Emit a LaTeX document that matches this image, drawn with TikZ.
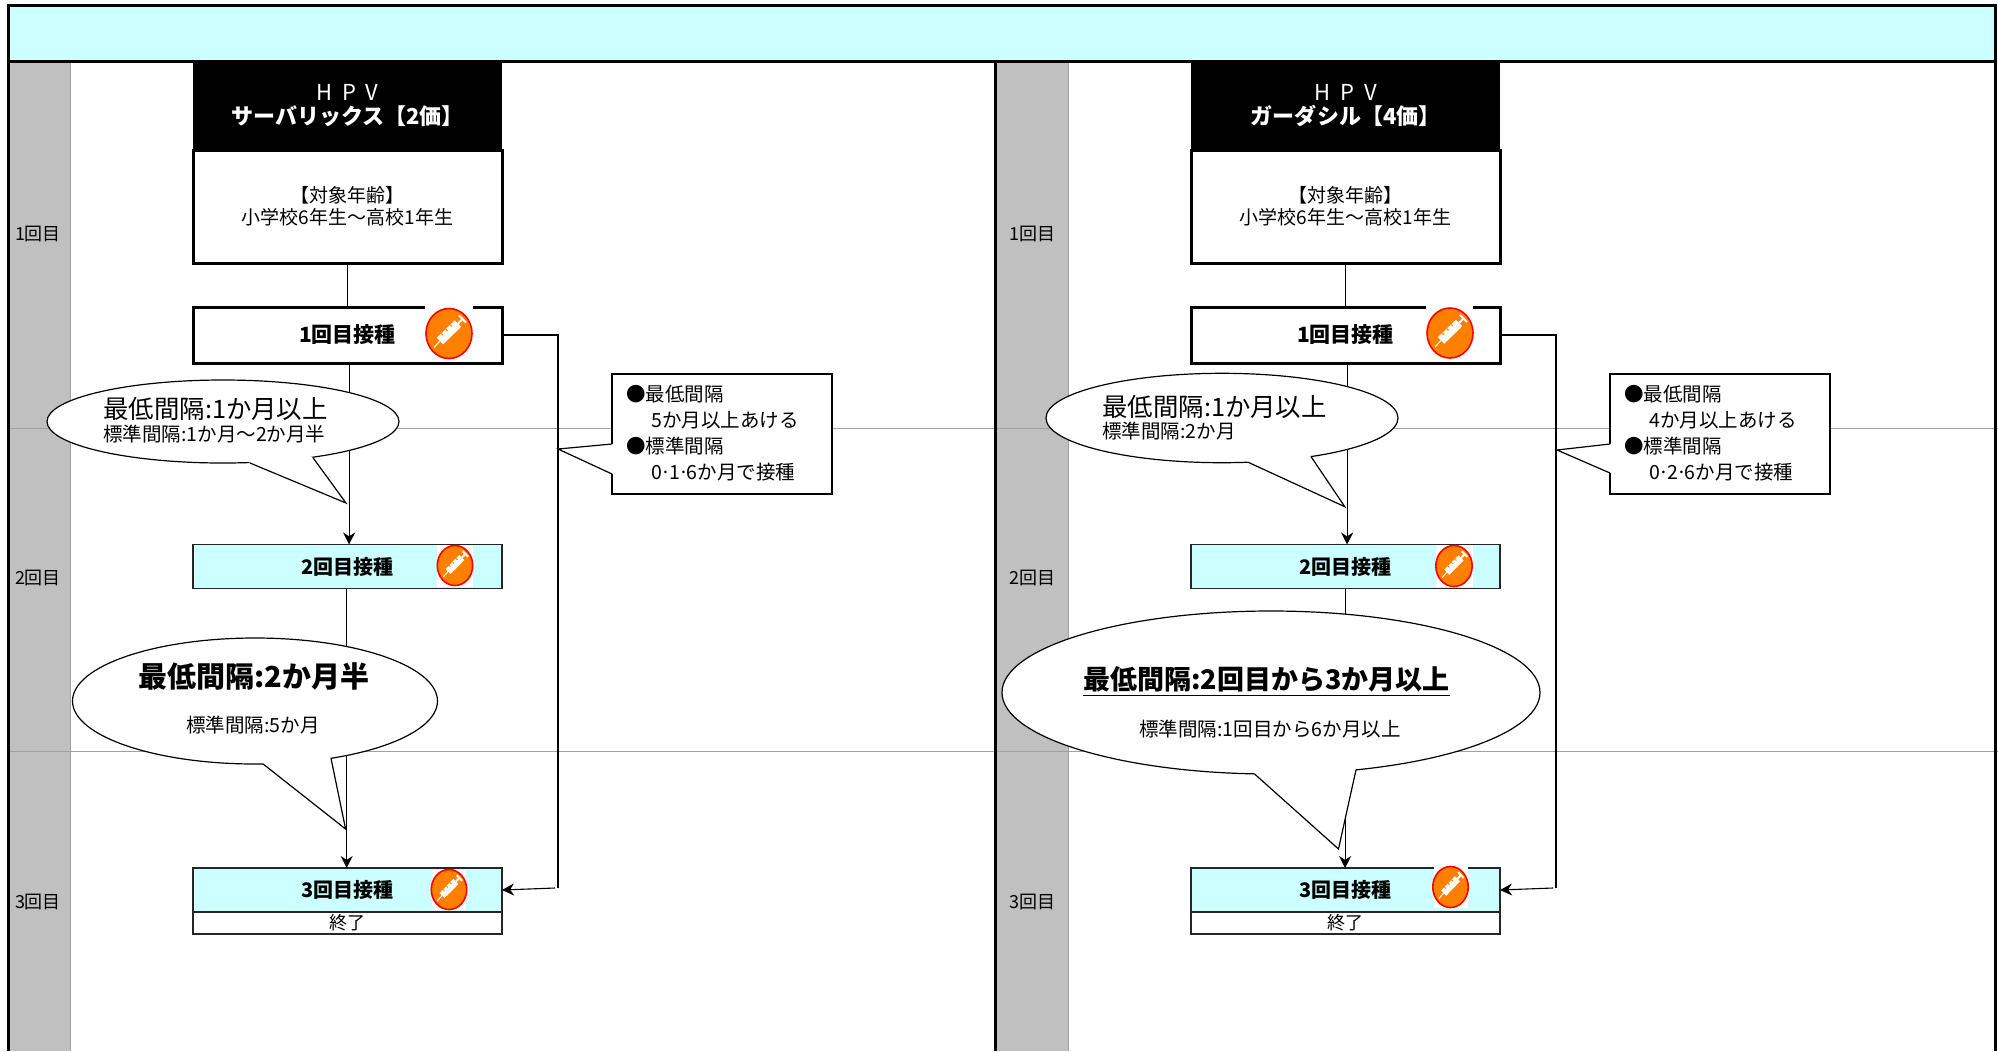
\documentclass[tikz,border=0pt]{standalone}
\usepackage{fontspec}
\usepackage{xcolor}
\setmainfont{Noto Sans CJK JP}
\usetikzlibrary{shapes.geometric, arrows.meta}
\definecolor{bandcyan}{HTML}{CCFFFF}
\definecolor{rowgray}{HTML}{C0C0C0}
\definecolor{hairgray}{HTML}{A0A0A0}
\definecolor{shotorange}{HTML}{FF8000}
\tikzstyle{titleband} = [rectangle, minimum width=993.5pt, minimum height=28pt, inner sep=0pt, outer sep=0pt, fill=bandcyan, draw=black, line width=1.5pt]
\tikzstyle{header} = [rectangle, minimum width=154.5pt, minimum height=44pt, inner sep=0pt, outer sep=0pt, fill=black, text=white, align=center, font=\fontsize{11}{12}\selectfont]
\tikzstyle{agebox} = [rectangle, minimum width=154.5pt, minimum height=56.5pt, inner sep=0pt, outer sep=0pt, draw=black, line width=1.5pt, align=center, font=\fontsize{9.5}{11}\selectfont]
\tikzstyle{firstbox} = [rectangle, minimum width=154.5pt, minimum height=28pt, inner sep=0pt, outer sep=0pt, draw=black, fill=white, line width=1.5pt, font=\fontsize{10.5}{12}\selectfont\bfseries]
\tikzstyle{dosebox} = [rectangle, minimum width=154.5pt, minimum height=22pt, inner sep=0pt, outer sep=0pt, draw=black!85, fill=bandcyan, line width=0.9pt, font=\fontsize{10}{12}\selectfont\bfseries]
\tikzstyle{endbox} = [rectangle, minimum width=154.5pt, minimum height=11pt, inner sep=0pt, outer sep=0pt, draw=black!85, fill=white, line width=0.9pt, font=\fontsize{9}{10}\selectfont]
\tikzstyle{balloon} = [ellipse, inner sep=0pt, outer sep=0pt, draw=black, fill=white, line width=0.6pt]
\tikzstyle{notebox} = [rectangle, minimum width=110pt, minimum height=60pt, inner sep=0pt, outer sep=0pt, draw=black, fill=white, line width=0.7pt]
\tikzstyle{notetext} = [anchor=west, inner sep=0pt, align=left, font=\fontsize{9.75}{13}\selectfont]
\tikzstyle{rowlabel} = [inner sep=0pt, font=\fontsize{9}{10}\selectfont]
\tikzstyle{stdtext} = [inner sep=0pt, font=\fontsize{9.75}{11}\selectfont]
\tikzstyle{line} = [line width=0.55pt]
\tikzstyle{arrow} = [line width=0.55pt,-{Stealth[length=6pt,width=6pt]}]
\newcommand{\balloontail}[4]{%
  \fill[white] #2 -- #3 -- #4 -- (#1.center) -- cycle;
  \draw[line width=0.6pt] #2 -- #3 -- #4;}
\newcommand{\syringeicon}[4]{%
  \begin{scope}[shift={(#1,#2)}, xscale=#3, yscale=#4]
    \draw[draw=red, fill=shotorange, line width=0.8pt] (0,0) ellipse (23 and 25);
    \fill[white] (-5.8,10.7) -- (-12.2,4.3) -- (5.8,-13.2) -- (12.2,-6.8) -- cycle;
    \draw[white, line width=0.5pt] (-9,7.5) -- (-15,14);
    \draw[white, line width=1pt] (9,-10) -- (13,-14);
    \draw[white, line width=1pt] (10,-18) -- (17,-11);
    \draw[shotorange, line width=0.5pt] (-7.7,0) -- (-5.9,1.8) (-3.2,-4.35) -- (-1.4,-2.55) (1.3,-8.7) -- (3.1,-6.9);
  \end{scope}}

\begin{document}
\begin{tikzpicture}[x=0.5pt, y=-0.5pt]
   \useasboundingbox (0,0) rectangle (1998,1051);
   % row columns and rules
   \fill[rowgray] (9,62) rectangle (70,1051);
   \fill[rowgray] (996,62) rectangle (1068,1051);
   \draw[hairgray, line width=0.4pt] (70,62) -- (70,1051);
   \draw[hairgray, line width=0.4pt] (1068,62) -- (1068,1051);
   \draw[hairgray, line width=0.5pt] (9,428) -- (1998,428);
   \draw[hairgray, line width=0.5pt] (9,751) -- (1998,751);
   \draw[line width=1.5pt] (8,5) -- (8,1051);
   \draw[line width=1.5pt] (995.5,62) -- (995.5,1051);
   \draw[line width=1.5pt] (1995,5) -- (1995,1051);
   \node (title) [titleband] at (1001.5,33.5) {};
   \node (row1a) [rowlabel] at (38,234) {1回目};
   \node (row2a) [rowlabel] at (38,578.5) {2回目};
   \node (row3a) [rowlabel] at (38,902.5) {3回目};
   \node (row1b) [rowlabel] at (1032,234) {1回目};
   \node (row2b) [rowlabel] at (1032,578.5) {2回目};
   \node (row3b) [rowlabel] at (1032,902.5) {3回目};
   % left panel
   \node (head1) [header] at (347.5,106) {H\ \ P\ \ V\\\textbf{サーバリックス【2価】}};
   \node (age1) [agebox] at (347.5,206.5) {【対象年齢】\\小学校6年生～高校1年生};
   \node (first1) [firstbox] at (347.5,335) {1回目接種};
   \node (second1) [dosebox] at (347.5,566.5) {2回目接種};
   \node (third1) [dosebox] at (347.5,890) {3回目接種};
   \node (end1) [endbox] at (347.5,923) {終了};
   \coordinate (turn1) at (558,888);
   \draw [line] (age1) -- (first1);
   \draw [arrow] ([xshift=0.8pt]first1.south) -- ([xshift=0.8pt]second1.north);
   \draw [arrow] ([xshift=-0.4pt]second1.south) -- ([xshift=-0.4pt]third1.north);
   \draw [line] (first1.east) -| (turn1);
   \draw [arrow] ([xshift=-1.5pt]turn1) -- (third1.east);
   \fill[white] (425,305.5) rectangle (473,330);
   \syringeicon{449}{333.5}{1}{1}
   \fill[white] (437,545) rectangle (473,587);
   \syringeicon{455}{565.5}{0.77}{0.8}
   \fill[white] (432,870) rectangle (466,910);
   \syringeicon{449}{889.5}{0.77}{0.8}
   \node (note1) [notebox] at (722,434) {};
   \balloontail{note1}{(612,444)}{(558,449)}{(612,474)}
   \node (notetxt1) [notetext] at (626,433) {●最低間隔\\\hspace*{12.5pt}5か月以上あける\\●標準間隔\\\hspace*{12.5pt}0\kern-1pt·\kern-1pt1\kern-1pt·\kern-1pt6か月で接種};
   \node (gap1) [balloon, minimum width=176pt, minimum height=41.5pt] at (223,421.5) {};
   \balloontail{gap1}{(250,463)}{(346,503)}{(313,457.7)}
   \node (min1) [anchor=west, inner sep=0pt, font=\fontsize{12.7}{14}\selectfont] at (103,408.5) {最低間隔:1か月以上};
   \node (std1) [stdtext, anchor=west] at (103,434.5) {標準間隔:1か月～2か月半};
   \node (gap2) [balloon, minimum width=182.5pt, minimum height=63pt] at (255,701) {};
   \balloontail{gap2}{(263,763.9)}{(345.6,829)}{(331,758.3)}
   \node (min2) [inner sep=0pt, font=\fontsize{14.5}{16}\selectfont\bfseries] at (254,676) {最低間隔:2か月半};
   \node (std2) [stdtext] at (253,725) {標準間隔:5か月};
   % right panel
   \node (head2) [header] at (1345.5,106) {H\ \ P\ \ V\\\textbf{ガーダシル【4価】}};
   \node (age2) [agebox] at (1345.5,206.5) {【対象年齢】\\小学校6年生～高校1年生};
   \node (first2) [firstbox] at (1345.5,335) {1回目接種};
   \node (second2) [dosebox] at (1345.5,566.5) {2回目接種};
   \node (third2) [dosebox] at (1345.5,890) {3回目接種};
   \node (end2) [endbox] at (1345.5,923) {終了};
   \coordinate (turn2) at (1556,888);
   \draw [line] (age2) -- (first2);
   \draw [arrow] ([xshift=0.8pt]first2.south) -- ([xshift=0.8pt]second2.north);
   \draw [arrow] ([xshift=-0.2pt]second2.south) -- ([xshift=-0.2pt]third2.north);
   \draw [line] (first2.east) -| (turn2);
   \draw [arrow] ([xshift=-1.5pt]turn2) -- (third2.east);
   \fill[white] (1426,305.5) rectangle (1473,330);
   \syringeicon{1450}{333}{1}{1}
   \fill[white] (1436,545) rectangle (1473,587);
   \syringeicon{1454}{566}{0.79}{0.82}
   \fill[white] (1433.5,866) rectangle (1468,908);
   \syringeicon{1450.5}{887}{0.77}{0.82}
   \node (note2) [notebox] at (1720,434) {};
   \balloontail{note2}{(1610,444)}{(1557,450)}{(1610,473)}
   \node (notetxt2) [notetext] at (1624,433) {●最低間隔\\\hspace*{12.5pt}4か月以上あける\\●標準間隔\\\hspace*{12.5pt}0\kern-1pt·\kern-1pt2\kern-1pt·\kern-1pt6か月で接種};
   \node (gap3) [balloon, minimum width=176pt, minimum height=44.7pt] at (1222,418) {};
   \balloontail{gap3}{(1248,462.2)}{(1344.8,506.7)}{(1311,456.6)}
   \node (min3) [anchor=west, inner sep=0pt, font=\fontsize{12.7}{14}\selectfont] at (1102,406.5) {最低間隔:1か月以上};
   \node (std3) [stdtext, anchor=west] at (1102,431) {標準間隔:2か月};
   \node (gap4) [balloon, minimum width=269pt, minimum height=81.5pt] at (1271,692.5) {};
   \balloontail{gap4}{(1254.5,773.9)}{(1338.5,849)}{(1356,769.8)}
   \node (min4) [inner sep=0pt, font=\fontsize{13.5}{15}\selectfont\bfseries] at (1266.6,681.5) {\underline{最低間隔:2回目から3か月以上}};
   \node (std4) [stdtext] at (1270,729) {標準間隔:1回目から6か月以上};
\end{tikzpicture}
\end{document}
